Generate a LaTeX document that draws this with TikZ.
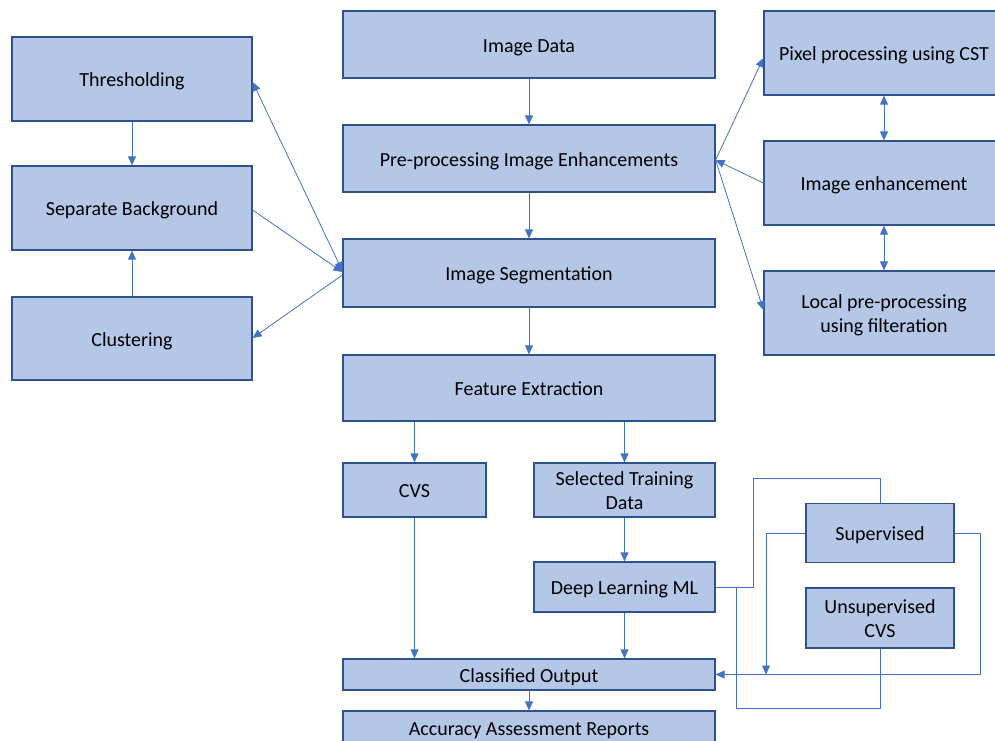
\documentclass[tikz,border=0pt]{standalone}
\usepackage{fontspec}
\setmainfont{Carlito}
\usetikzlibrary{arrows.meta}
\definecolor{boxfill}{HTML}{B4C7E7}
\definecolor{boxline}{HTML}{2F528F}
\definecolor{conn}{HTML}{4472C4}
\newcommand\bxt[1]{\raisebox{-3pt}[\height][\depth]{\begin{tabular}{@{}c@{}}#1\end{tabular}}}
\begin{document}
\begin{tikzpicture}[x=1pt,y=-1pt,
  box/.style={draw=boxline,fill=boxfill,line width=1.2pt,inner sep=0pt,align=center,
    font=\fontsize{20}{24}\selectfont,text=black},
  link/.style={draw=conn,line width=0.8pt},
  arr/.style={link,-{Triangle[length=9pt,width=8pt]}},
  darr/.style={link,{Triangle[length=9pt,width=8pt]}-{Triangle[length=9pt,width=8pt]}}]
\useasboundingbox (0,0) rectangle (995,740);
\clip (0,0) rectangle (995,740);
% central column
\node[box,minimum width=372pt,minimum height=67pt] (data) at (529,44.5) {\bxt{Image Data}};
\node[box,minimum width=372pt,minimum height=67pt] (pre) at (529,158.5) {\bxt{Pre-processing Image Enhancements}};
\node[box,minimum width=372pt,minimum height=68pt] (seg) at (529,273) {\bxt{Image Segmentation}};
\node[box,minimum width=372pt,minimum height=66pt] (feat) at (529,388) {\bxt{Feature Extraction}};
\node[box,minimum width=143pt,minimum height=54pt] (cvs) at (414.5,490) {\bxt{CVS}};
\node[box,minimum width=181pt,minimum height=54pt] (sel) at (624.5,490) {\bxt{Selected Training\\Data}};
\node[box,minimum width=181pt,minimum height=50pt] (deep) at (624.5,587) {\bxt{Deep Learning ML}};
\node[box,minimum width=372pt,minimum height=31pt] (cls) at (529,674.5) {\bxt{Classified Output}};
\node[box,minimum width=372pt,minimum height=34pt] (acc) at (529,728) {\bxt{Accuracy Assessment Reports}};
% left column
\node[box,minimum width=240pt,minimum height=84pt] (thr) at (132,79) {\bxt{Thresholding}};
\node[box,minimum width=240pt,minimum height=84pt] (sep) at (132,208) {\bxt{Separate Background}};
\node[box,minimum width=240pt,minimum height=83pt] (clu) at (132,338.5) {\bxt{Clustering}};
% right column
\node[box,minimum width=240pt,minimum height=84pt] (pix) at (884,53) {\bxt{Pixel processing using CST}};
\node[box,minimum width=240pt,minimum height=84pt] (enh) at (884,183) {\bxt{Image enhancement}};
\node[box,minimum width=240pt,minimum height=84pt] (loc) at (884,313) {\bxt{Local pre-processing\\using filteration}};
\node[box,minimum width=148pt,minimum height=59pt] (sup) at (880,533) {\bxt{Supervised}};
\node[box,minimum width=148pt,minimum height=60pt] (uns) at (880,618) {\bxt{Unsupervised\\CVS}};
% central arrows
\draw[arr] (data) -- (pre);
\draw[arr] (pre) -- (seg);
\draw[arr] (seg) -- (feat);
\draw[arr] (feat.south -| cvs.north) -- (cvs.north);
\draw[arr] (feat.south -| sel.north) -- (sel.north);
\draw[arr] (sel) -- (deep);
\draw[arr] (cvs.south) -- (cvs.south |- cls.north);
\draw[arr] (deep.south) -- (deep.south |- cls.north);
\draw[arr] (cls) -- (acc);
% left arrows
\draw[darr] (thr.east |- 0,82) -- (seg.west |- 0,271);
\draw[arr] (sep.east |- 0,210) -- (seg.west |- 0,272);
\draw[arr] (seg.west |- 0,275) -- (clu.east |- 0,338);
\draw[arr] (clu) -- (sep);
\draw[arr] (thr) -- (sep);
% right arrows
\draw[arr] (pre.east |- 0,160) -- (pix.west |- 0,58);
\draw[arr] (enh.west) -- (pre.east |- 0,160);
\draw[arr] (pre.east |- 0,160) -- (loc.west |- 0,310);
\draw[darr] (pix) -- (enh);
\draw[darr] (enh) -- (loc);
% supervised / unsupervised routing
\coordinate (suptip) at (766,674.5);
\draw[link] (deep.east) -| (753,478) -| (sup.north);
\draw[link] (deep.east) -| (736,708) -| (uns.south);
\draw[arr] (sup.west) -| (suptip);
\draw[arr] (sup.east) -| (980,674.5) -- (cls.east);
\end{tikzpicture}
\end{document}
